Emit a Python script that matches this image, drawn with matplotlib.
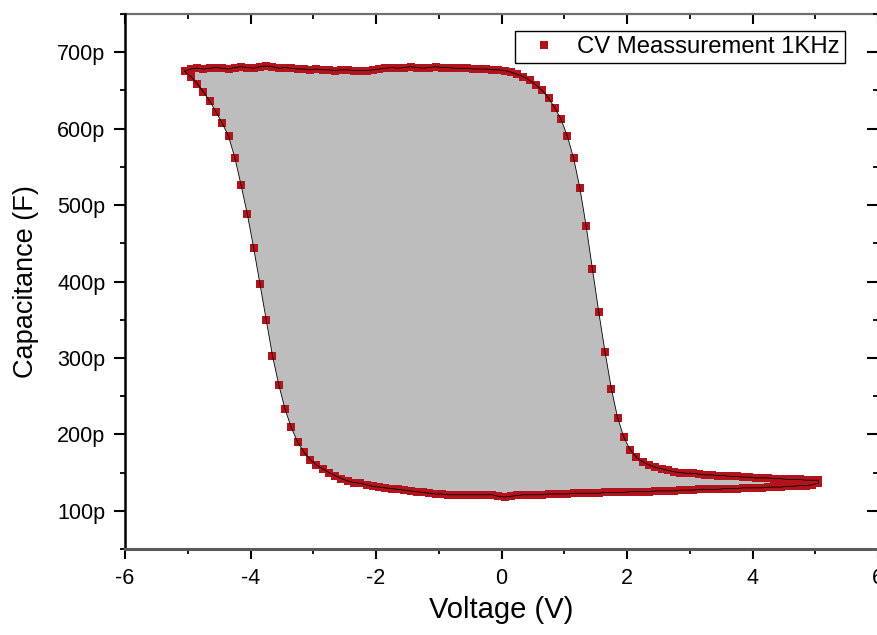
import matplotlib
matplotlib.use("Agg")
import matplotlib.pyplot as plt
from matplotlib.ticker import MultipleLocator, FuncFormatter

plt.rcParams['font.family'] = ['Liberation Sans', 'DejaVu Sans']
plt.rcParams['axes.unicode_minus'] = False

# Sweep voltages (V)
voltage = [-5.05, -4.95, -4.85, -4.75, -4.65, -4.55, -4.45, -4.35, -4.25, -4.15,
           -4.05, -3.95, -3.85, -3.75, -3.65, -3.55, -3.45, -3.35, -3.25, -3.15,
           -3.05, -2.95, -2.85, -2.75, -2.65, -2.55, -2.45, -2.35, -2.25, -2.15,
           -2.05, -1.95, -1.85, -1.75, -1.65, -1.55, -1.45, -1.35, -1.25, -1.15,
           -1.05, -0.95, -0.85, -0.75, -0.65, -0.55, -0.45, -0.35, -0.25, -0.15,
           -0.05, 0.05, 0.15, 0.25, 0.35, 0.45, 0.55, 0.65, 0.75, 0.85,
           0.95, 1.05, 1.15, 1.25, 1.35, 1.45, 1.55, 1.65, 1.75, 1.85,
           1.95, 2.05, 2.15, 2.25, 2.35, 2.45, 2.55, 2.65, 2.75, 2.85,
           2.95, 3.05, 3.15, 3.25, 3.35, 3.45, 3.55, 3.65, 3.75, 3.85,
           3.95, 4.05, 4.15, 4.25, 4.35, 4.45, 4.55, 4.65, 4.75, 4.85,
           4.95, 5.05]

# Forward sweep capacitance (pF), same order as voltage
cap_forward = [675, 678, 679, 678, 679, 680, 679, 678, 680, 681,
               680, 679, 681, 682, 681, 679, 680, 679, 678, 678,
               677, 678, 677, 677, 676, 677, 677, 676, 676, 676,
               677, 678, 679, 680, 679, 680, 681, 680, 679, 680,
               681, 680, 680, 679, 679, 679, 678, 678, 678, 677,
               677, 676, 674, 671, 668, 663, 657, 650, 640, 627,
               612, 590, 561, 522, 472, 416, 360, 308, 260, 222,
               196, 180, 170, 164, 160, 157, 155, 153, 151, 150,
               149, 149, 148, 147, 147, 146, 146, 145, 145, 144,
               144, 143, 143, 143, 142, 142, 141, 141, 141, 140,
               140, 140]

# Reverse sweep capacitance (pF), same order as voltage
cap_reverse = [675, 668, 659, 648, 636, 622, 607, 590, 562, 526,
               488, 444, 397, 350, 303, 265, 233, 209, 190, 177,
               167, 160, 155, 150, 146, 142, 139, 137, 136, 134,
               132, 131, 130, 129, 128, 127, 126, 125, 124, 123,
               122, 122, 121, 121, 121, 121, 121, 121, 121, 121,
               119, 118, 119, 120, 121, 121, 121, 121, 122, 122,
               122, 122, 123, 123, 123, 123, 123, 124, 124, 124,
               124, 125, 125, 125, 125, 126, 126, 126, 126, 127,
               127, 127, 128, 128, 128, 128, 129, 129, 129, 130,
               130, 130, 130, 131, 131, 131, 132, 132, 133, 133,
               134, 136]

x_loop = voltage + voltage[::-1]
y_loop = cap_forward + cap_reverse[::-1]

fig = plt.figure(figsize=(8.77, 6.35), dpi=100)
ax = fig.add_axes([125/877, 1 - 549/635, (878 - 125)/877, (549 - 14)/635])

ax.fill(x_loop, y_loop, color='#BDBDBD', zorder=1, linewidth=0)
ax.plot(x_loop, y_loop, linestyle='none', marker='s', markersize=5.3,
        color='#B3141C', markeredgewidth=0, zorder=2,
        label='CV Meassurement 1KHz')
ax.plot(x_loop, y_loop, color='black', linewidth=0.6, zorder=3)

ax.set_xlim(-6, 6)
ax.set_ylim(50, 750)
ax.xaxis.set_major_locator(MultipleLocator(2))
ax.xaxis.set_minor_locator(MultipleLocator(1))
ax.yaxis.set_major_locator(MultipleLocator(100))
ax.yaxis.set_minor_locator(MultipleLocator(50))
ax.xaxis.set_major_formatter(FuncFormatter(lambda v, p: f"{v:.0f}"))
ax.yaxis.set_major_formatter(FuncFormatter(lambda v, p: f"{v:.0f}p"))

ax.tick_params(axis='x', which='major', direction='out', length=7, width=1.5,
               labelsize=15.5, pad=7, top=False)
ax.tick_params(axis='x', which='minor', direction='out', length=3.5, width=1.3, top=False)
ax.tick_params(axis='y', which='major', direction='out', length=8, width=1.5,
               labelsize=15.5, pad=6, right=False)
ax.tick_params(axis='y', which='minor', direction='out', length=3.5, width=1.3, right=False)

# mirrored ticks on top and right pointing into the plot
sec_x = ax.secondary_xaxis('top')
sec_x.xaxis.set_major_locator(MultipleLocator(2))
sec_x.xaxis.set_minor_locator(MultipleLocator(1))
sec_x.tick_params(which='major', direction='in', length=7, width=1.5, labeltop=False)
sec_x.tick_params(which='minor', direction='in', length=3.5, width=1.3)
sec_x.spines['top'].set_color('#6e6e6e')
sec_x.spines['top'].set_linewidth(1.6)
sec_y = ax.secondary_yaxis('right')
sec_y.yaxis.set_major_locator(MultipleLocator(100))
sec_y.yaxis.set_minor_locator(MultipleLocator(50))
sec_y.tick_params(which='major', direction='in', length=8, width=1.5, labelright=False)
sec_y.tick_params(which='minor', direction='in', length=3.5, width=1.3)

ax.spines['top'].set_visible(False)
ax.spines['right'].set_visible(False)
ax.spines['left'].set_linewidth(1.8)
ax.spines['left'].set_color('black')
ax.spines['bottom'].set_linewidth(2.2)
ax.spines['bottom'].set_color('#5a5a5a')

ax.set_xlabel('Voltage (V)', fontsize=21, labelpad=5)
ax.set_ylabel('Capacitance (F)', fontsize=19.5, labelpad=13)

leg = ax.legend(loc='upper right', bbox_to_anchor=(0.956, 0.968), fontsize=17.2,
                frameon=True, fancybox=False, edgecolor='black', framealpha=1,
                borderpad=0.2, handletextpad=0.4, handlelength=2.0,
                markerscale=1.1, borderaxespad=0)
leg.get_frame().set_linewidth(1.0)

fig.savefig('out.png', dpi=100)
